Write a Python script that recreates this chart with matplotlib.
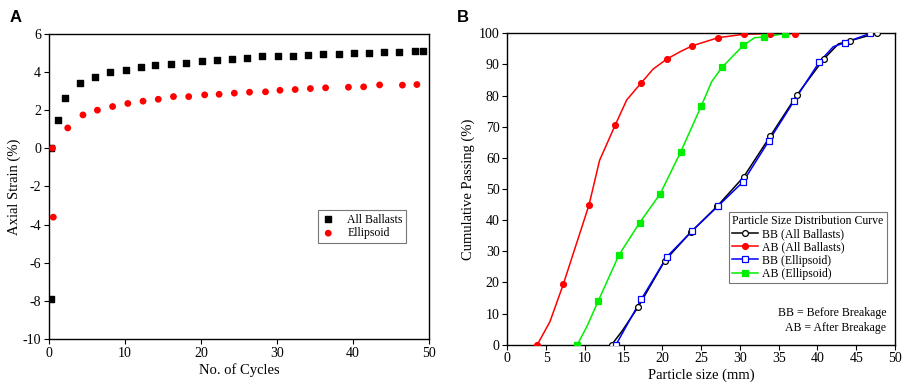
import matplotlib
matplotlib.use("Agg")
import matplotlib.pyplot as plt
from matplotlib.lines import Line2D

plt.rcParams['font.family'] = ['Liberation Serif', 'DejaVu Serif']
plt.rcParams['axes.unicode_minus'] = False

# ---------------- Panel A data ----------------
cycles_all = [0.3, 0.3, 1.2, 2.1, 4.1, 6.1, 8.1, 10.1, 12.1, 14.0, 16.1, 18.1, 20.1, 22.1, 24.1,
              26.1, 28.1, 30.1, 32.1, 34.1, 36.1, 38.1, 40.1, 42.1, 44.1, 46.1, 48.1, 49.2]
strain_all = [-7.87, 0.0, 1.47, 2.6, 3.42, 3.75, 4.0, 4.08, 4.25, 4.34, 4.41, 4.48, 4.55, 4.62, 4.69,
              4.74, 4.8, 4.81, 4.81, 4.88, 4.95, 4.95, 4.99, 4.99, 5.04, 5.04, 5.07, 5.09]
cycles_ell = [0.6, 0.5, 2.5, 4.5, 6.4, 8.4, 10.4, 12.4, 14.4, 16.4, 18.4, 20.5, 22.4, 24.4,
              26.4, 28.5, 30.4, 32.4, 34.4, 36.4, 39.4, 41.4, 43.5, 46.5, 48.4]
strain_ell = [-3.61, 0.0, 1.06, 1.74, 1.99, 2.18, 2.34, 2.46, 2.56, 2.7, 2.7, 2.79, 2.82, 2.88,
              2.93, 2.95, 3.03, 3.07, 3.12, 3.16, 3.19, 3.21, 3.31, 3.30, 3.33]

# ---------------- Panel B data ----------------
# (curve points; marker flags indicate the plotted symbols)
bb_all_x = [13.46, 14.75, 16.85, 20.29, 23.69, 27.08, 30.49, 33.92, 37.36, 40.8, 42.7, 44.19, 47.63]
bb_all_y = [0.0, 4.2, 12.0, 26.9, 36.2, 44.5, 53.9, 67.0, 80.2, 91.7, 96.6, 97.6, 100.0]
bb_all_m = [1, 0, 1, 1, 1, 1, 1, 1, 1, 1, 0, 1, 1]

ab_all_x = [3.87, 5.5, 7.22, 10.54, 11.9, 13.89, 15.4, 17.24, 18.8, 20.55, 22.3, 23.86, 27.2, 30.52, 33.87, 37.14]
ab_all_y = [0.0, 7.4, 19.4, 44.9, 59.2, 70.4, 78.6, 84.0, 88.5, 91.7, 94.1, 96.0, 98.6, 99.7, 99.9, 99.9]
ab_all_m = [1, 0, 1, 1, 0, 1, 0, 1, 0, 1, 0, 1, 1, 1, 1, 1]

bb_ell_x = [14.02, 17.28, 20.6, 23.86, 27.13, 30.4, 33.71, 36.98, 40.24, 42.04, 43.55, 46.8]
bb_ell_y = [0.0, 14.6, 28.3, 36.6, 44.4, 52.3, 65.4, 78.3, 90.8, 95.7, 97.0, 100.0]
bb_ell_m = [1, 1, 1, 1, 1, 1, 1, 1, 1, 0, 1, 1]

ab_ell_x = [9.03, 10.3, 11.7, 14.4, 17.07, 19.73, 22.36, 25.02, 26.36, 27.73, 30.43, 31.9, 33.1, 35.77]
ab_ell_y = [0.0, 6.0, 13.9, 28.8, 39.2, 48.5, 61.9, 76.7, 84.5, 89.2, 96.1, 98.6, 98.8, 99.9]
ab_ell_m = [1, 0, 1, 1, 1, 1, 1, 1, 0, 1, 1, 0, 1, 1]

fig = plt.figure(figsize=(9.09, 3.92), dpi=100)

tick_fs = 10
lab_fs = 10.5

# ---------------- Panel A ----------------
axA = fig.add_axes([0.0536, 0.1344, 0.4184, 0.7801])
axA.scatter(cycles_all, strain_all, marker='s', s=22, color='black', label='All Ballasts', zorder=3)
axA.scatter(cycles_ell, strain_ell, marker='o', s=24, color='#ff0000', edgecolors='none',
            label='Ellipsoid', zorder=3)
axA.set_xlim(0, 50)
axA.set_ylim(-10, 6)
axA.set_xticks(range(0, 51, 10))
axA.set_yticks(range(-10, 7, 2))
axA.tick_params(direction='out', length=3.5, width=0.8, labelsize=tick_fs, pad=2)
axA.set_xlabel('No. of Cycles', fontsize=lab_fs, labelpad=2)
axA.set_ylabel('Axial Strain (%)', fontsize=lab_fs, labelpad=1)
for sp in axA.spines.values():
    sp.set_linewidth(1.0)
legA = axA.legend(loc='upper left', bbox_to_anchor=(0.707, 0.423), fontsize=8.5, frameon=True,
                  fancybox=False, edgecolor='#555555', handlelength=1.2, handletextpad=1.0,
                  borderpad=0.3, labelspacing=0.15, borderaxespad=0)
legA.get_frame().set_linewidth(0.8)

fig.text(0.011, 0.955, 'A', fontsize=12, fontweight='bold', family='Liberation Sans',
         ha='left', va='center')

# ---------------- Panel B ----------------
axB = fig.add_axes([0.5581, 0.1207, 0.4265, 0.7943])

def draw(ax, x, y, m, color, marker, mfc, label):
    ax.plot(x, y, '-', color=color, lw=1.1, zorder=2)
    mx = [a for a, k in zip(x, m) if k]
    my = [b for b, k in zip(y, m) if k]
    ax.plot(mx, my, linestyle='none', marker=marker, ms=4.2, mfc=mfc, mec=color, mew=0.9, zorder=3)
    return Line2D([], [], color=color, lw=1.1, marker=marker, ms=4.2, mfc=mfc, mec=color, mew=0.9,
                  label=label)

h1 = draw(axB, bb_all_x, bb_all_y, bb_all_m, 'black', 'o', 'white', 'BB (All Ballasts)')
h2 = draw(axB, ab_all_x, ab_all_y, ab_all_m, '#ff0000', 'o', '#ff0000', 'AB (All Ballasts)')
h3 = draw(axB, bb_ell_x, bb_ell_y, bb_ell_m, '#0000ff', 's', 'white', 'BB (Ellipsoid)')
h4 = draw(axB, ab_ell_x, ab_ell_y, ab_ell_m, '#00ee00', 's', '#00ee00', 'AB (Ellipsoid)')

axB.set_xlim(0, 50)
axB.set_ylim(0, 100)
axB.set_xticks(range(0, 51, 5))
axB.set_yticks(range(0, 101, 10))
axB.tick_params(direction='out', length=3.5, width=0.8, labelsize=tick_fs, pad=2)
axB.set_xlabel('Particle size (mm)', fontsize=lab_fs, labelpad=2)
axB.set_ylabel('Cumulative Passing (%)', fontsize=lab_fs, labelpad=3)
for sp in axB.spines.values():
    sp.set_linewidth(1.0)

legB = axB.legend(handles=[h1, h2, h3, h4], title='Particle Size Distribution Curve',
                  loc='upper left', bbox_to_anchor=(0.573, 0.426), fontsize=8.5, title_fontsize=8.5,
                  frameon=True, fancybox=False, edgecolor='#555555', handlelength=2.2,
                  handletextpad=0.3, borderpad=0.25, labelspacing=0.1, borderaxespad=0)
legB._legend_box.align = 'left'
legB.get_frame().set_linewidth(0.8)

axB.text(0.978, 0.035, 'BB = Before Breakage\nAB = After Breakage', transform=axB.transAxes,
         fontsize=8.5, ha='right', va='bottom', linespacing=1.35)

fig.text(0.503, 0.955, 'B', fontsize=12, fontweight='bold', family='Liberation Sans',
         ha='left', va='center')

fig.savefig('out.png', dpi=100)
